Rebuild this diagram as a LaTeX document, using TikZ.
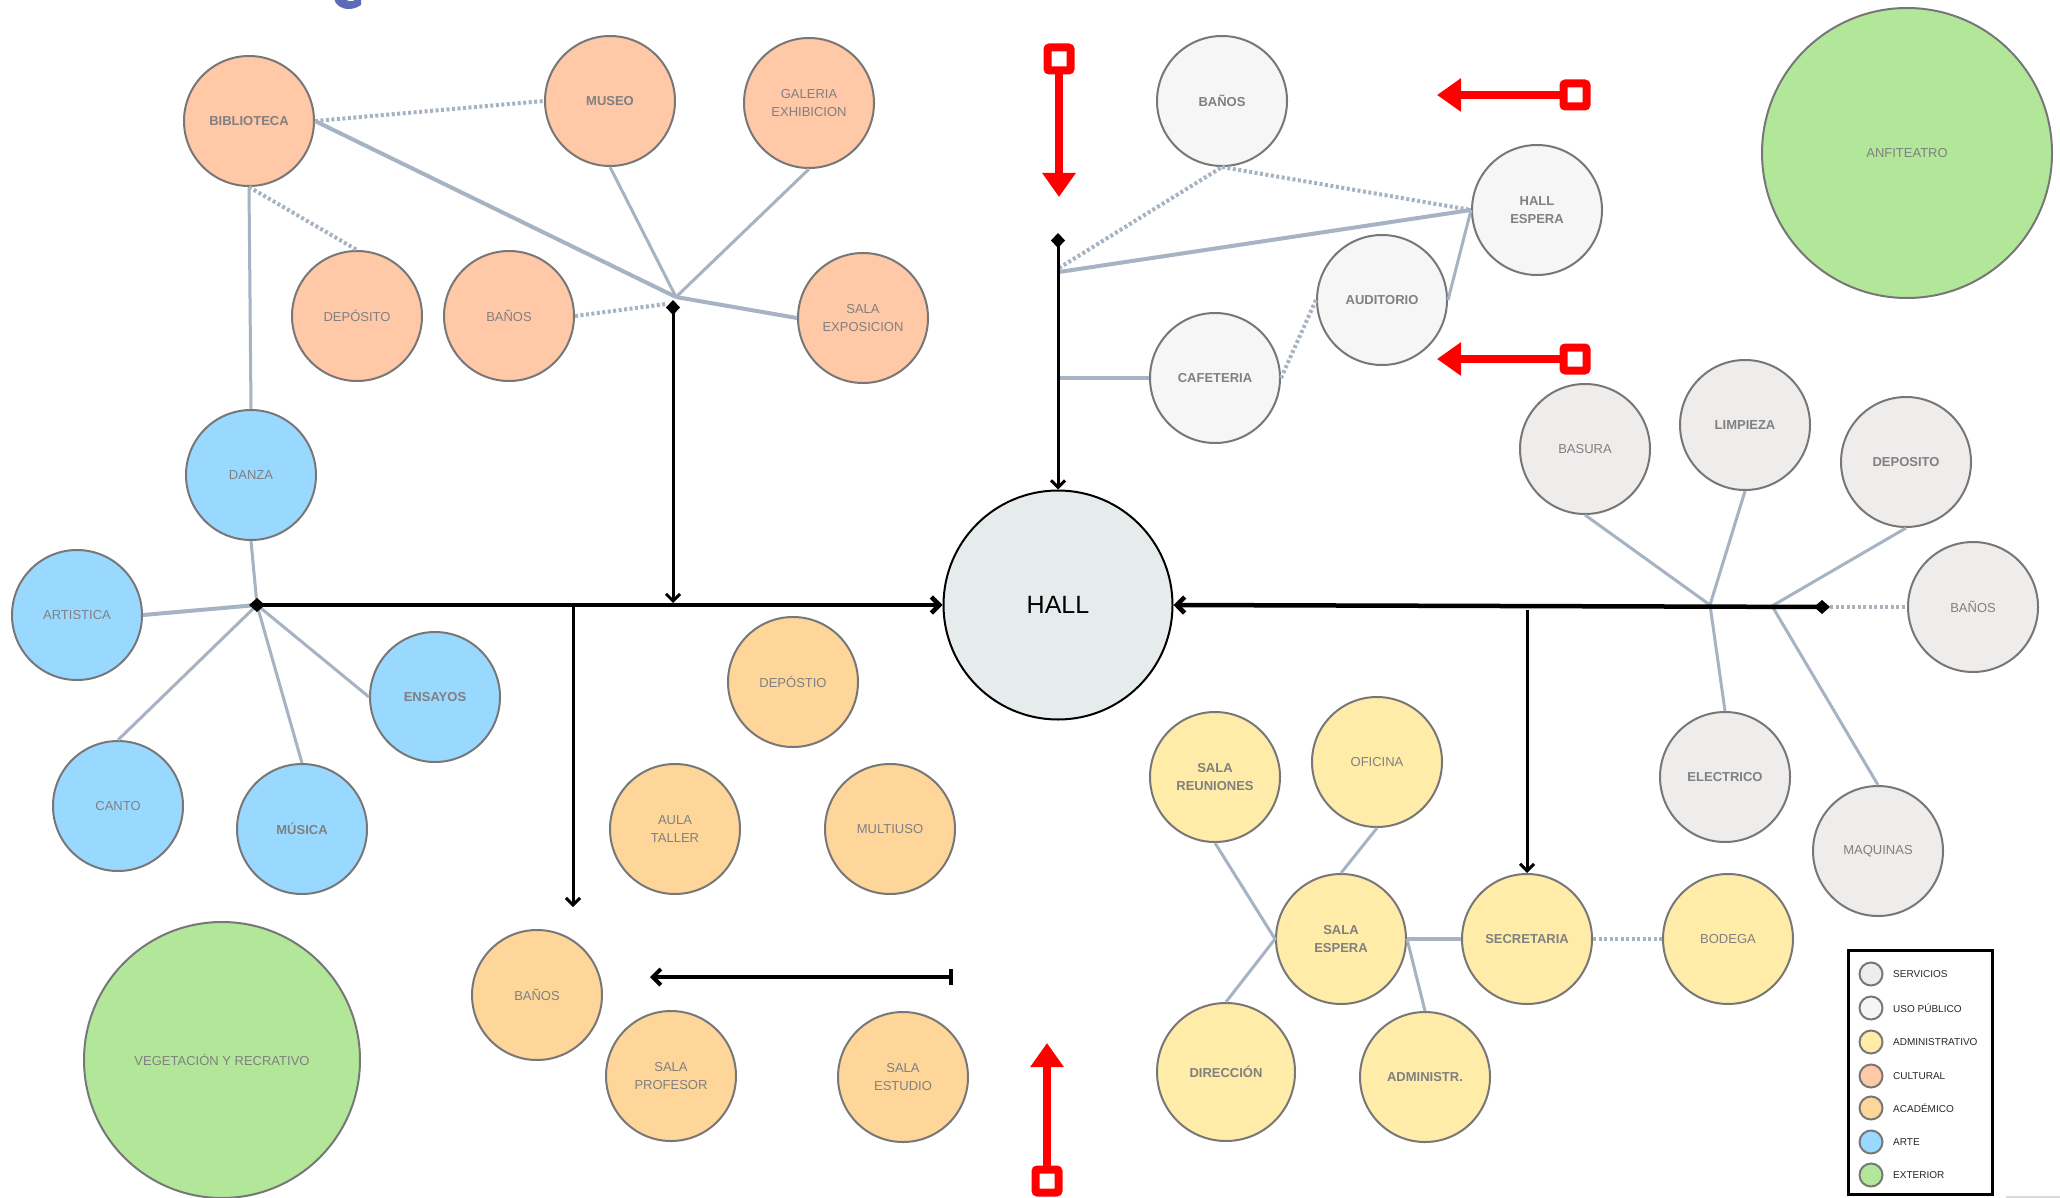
\documentclass[tikz,border=0pt]{standalone}
\usepackage{fontspec}
\setmainfont{Liberation Sans}
\usetikzlibrary{arrows.meta}
\definecolor{cserv}{HTML}{EFECEC}
\definecolor{cuso}{HTML}{F6F6F6}
\definecolor{cadm}{HTML}{FFECA9}
\definecolor{ccul}{HTML}{FFC8A6}
\definecolor{caca}{HTML}{FED699}
\definecolor{carte}{HTML}{9AD9FF}
\definecolor{cext}{HTML}{B2E79A}
\definecolor{chall}{HTML}{E5ECEB}
\definecolor{cline}{HTML}{A5B3C2}
\definecolor{cbord}{HTML}{777777}
\definecolor{ctxt}{HTML}{808080}
\definecolor{cblue}{HTML}{5C6BB5}
\tikzset{
  room/.style={circle, draw=cbord, line width=2pt, minimum size=130pt, inner sep=0pt,
    font=\fontsize{13}{18}\selectfont, text=ctxt, align=center},
  bf/.style={font=\fontsize{13}{18}\selectfont\bfseries},
  cul/.style={room, fill=ccul},
  aca/.style={room, fill=caca},
  adm/.style={room, fill=cadm},
  arte/.style={room, fill=carte},
  ext/.style={room, fill=cext},
  serv/.style={room, fill=cserv},
  uso/.style={room, fill=cuso},
  conn/.style={cline, line width=4pt},
  thinconn/.style={cline, line width=3pt},
  dots/.style={cline, line width=4pt, dash pattern=on 3pt off 2.5pt},
  blk/.style={black},
  dtip/.style={},
  redsq/.style={rectangle, draw=red, fill=white, line width=8pt, minimum size=23pt, inner sep=0pt, rounded corners=2pt},
  redarr/.style={red, line width=8pt, -{Triangle[length=24pt,width=32pt]}},
  legc/.style={circle, draw=cbord, line width=2pt, minimum size=23pt, inner sep=0pt},
  legt/.style={anchor=west, font=\fontsize{10}{12}\selectfont, text=black!85, inner sep=0pt}
}
\begin{document}
\begin{tikzpicture}[x=1pt,y=-1pt]
\useasboundingbox (0,0) rectangle (2060,1198);
\fill[white] (0,0) rectangle (2060,1198);
% partial glyph at top
\begin{scope}
\clip (0,0) rectangle (2060,1198);
\fill[cblue] (334,-2) .. controls (335,5) and (341,9) .. (349,9) .. controls (354,9) and (358,7) .. (361,5) -- (361,0) -- (355,0) .. controls (352,2) and (347,2) .. (345,-2) -- cycle;
\end{scope}

% ---------- nodes ----------
% cultural
\node[cul, bf] (bib) at (249,121) {BIBLIOTECA};
\node[cul, bf] (mus) at (610,101) {MUSEO};
\node[cul] (gal) at (809,103) {GALERIA\\EXHIBICION};
\node[cul] (dep) at (357,316) {DEPÓSITO};
\node[cul] (bcu) at (509,316) {BAÑOS};
\node[cul] (sexp) at (863,318) {SALA\\EXPOSICION};
% arte
\node[arte] (dan) at (251,475) {DANZA};
\node[arte] (art) at (77,615) {ARTISTICA};
\node[arte, bf] (ens) at (435,697) {ENSAYOS};
\node[arte] (can) at (118,806) {CANTO};
\node[arte, bf] (mu) at (302,829) {MÚSICA};
% exterior
\node[ext, minimum size=276pt] (veg) at (222,1060) {VEGETACIÓN Y RECRATIVO};
\node[ext, minimum size=290pt] (anf) at (1907,153) {ANFITEATRO};
% academico
\node[aca] (dpt) at (793,682) {DEPÓSTIO};
\node[aca] (aul) at (675,829) {AULA\\TALLER};
\node[aca] (mul) at (890,829) {MULTIUSO};
\node[aca] (bac) at (537,995) {BAÑOS};
\node[aca] (spr) at (671,1076) {SALA\\PROFESOR};
\node[aca] (ses) at (903,1077) {SALA\\ESTUDIO};
% hall
\node[circle, draw=black, line width=2pt, fill=chall, minimum size=229pt, inner sep=0pt,
  font=\fontsize{25}{30}\selectfont, text=black] (hall) at (1058,605) {HALL};
% uso publico
\node[uso, bf] (bus) at (1222,101) {BAÑOS};
\node[uso, bf] (hes) at (1537,210) {HALL\\ESPERA};
\node[uso, bf] (aud) at (1382,300) {AUDITORIO};
\node[uso, bf] (caf) at (1215,378) {CAFETERIA};
% servicios
\node[serv] (bas) at (1585,449) {BASURA};
\node[serv, bf] (lim) at (1745,425) {LIMPIEZA};
\node[serv, bf] (dpo) at (1906,462) {DEPOSITO};
\node[serv] (bse) at (1973,607) {BAÑOS};
\node[serv, bf] (ele) at (1725,777) {ELECTRICO};
\node[serv] (maq) at (1878,851) {MAQUINAS};
% administrativo
\node[adm, bf] (sre) at (1215,777) {SALA\\REUNIONES};
\node[adm] (ofi) at (1377,762) {OFICINA};
\node[adm, bf] (sesp) at (1341,939) {SALA\\ESPERA};
\node[adm, bf] (sec) at (1527,939) {SECRETARIA};
\node[adm] (bod) at (1728,939) {BODEGA};
\node[adm, bf, minimum size=138pt] (dir) at (1226,1072) {DIRECCIÓN};
\node[adm, bf] (admn) at (1425,1077) {ADMINISTR.};

% ---------- gray connectors ----------
\coordinate (ch) at (676,297);
\coordinate (chd) at (666,304);
\draw[conn] (bib.east) -- (ch);
\draw[thinconn] (mus.south) -- (ch);
\draw[thinconn] (gal.south) -- (ch);
\draw[conn] (sexp.west) -- (ch);
\draw[dots] (bcu.east) -- (chd);
\draw[dots] (bib.east) -- (mus.west);
\draw[dots] (bib.south) -- (dep.north);
\draw[thinconn] (bib.south) -- (dan.north);

\coordinate (ah) at (257,605);
\draw[thinconn] (dan.south) -- (ah);
\draw[conn] (art.east) -- (ah);
\draw[thinconn] (can.north) -- (ah);
\draw[thinconn] (mu.north) -- (ah);
\draw[thinconn] (ens.west) -- (ah);

\coordinate (uj) at (1059,272);
\coordinate (ujd) at (1059,268);
\coordinate (cj) at (1059,378);
\draw[conn] (uj) -- (hes.west);
\draw[dots] (ujd) -- (bus.south);
\draw[dots] (bus.south) -- (hes.west);
\draw[thinconn] (hes.west) -- (aud.east);
\draw[dots] (aud.west) -- (caf.east);
\draw[conn] (cj) -- (caf.west);

\coordinate (sj1) at (1710,605);
\coordinate (sj2) at (1772,606);
\coordinate (sdi) at (1830,607);
\draw[thinconn] (bas.south) -- (sj1);
\draw[thinconn] (lim.south) -- (sj1) -- (ele.north);
\draw[thinconn] (dpo.south) -- (sj2) -- (maq.north);
\draw[dots] (sdi) -- (bse.west);

\draw[thinconn] (sre.south) -- (sesp.west) -- (dir.north);
\draw[thinconn] (ofi.south) -- (sesp.north);
\draw[conn] (sesp.east) -- (sec.west);
\draw[thinconn] (sesp.east) -- (admn.north);
\draw[dots] (sec.east) -- (bod.west);

% ---------- black connectors ----------
\coordinate (m1) at (249,605);
\draw[blk, line width=4.5pt, {Diamond[length=16pt,width=14pt]}-{Straight Barb[length=8pt,width=16pt]}] (m1) -- (hall.west);
\coordinate (c1) at (673,300);
\coordinate (c2) at (673,603);
\draw[blk, line width=3pt, {Diamond[length=15pt,width=14pt]}-{Straight Barb[length=7pt,width=14pt]}] (c1) -- (c2);
\coordinate (b1) at (573,607);
\coordinate (b2) at (573,907);
\draw[blk, line width=3pt, -{Straight Barb[length=7pt,width=14pt]}] (b1) -- (b2);
\coordinate (h1) at (953,977);
\coordinate (h2) at (650,977);
\draw[blk, line width=4pt, {Bar[width=16pt]}-{Straight Barb[length=8pt,width=16pt]}] (h1) -- (h2);
\coordinate (t1) at (1058,233);
\draw[blk, line width=3pt, {Diamond[length=15pt,width=14pt]}-{Straight Barb[length=7pt,width=14pt]}] (t1) -- (hall.north);
\draw[blk, line width=4.5pt, {Diamond[length=16pt,width=14pt]}-{Straight Barb[length=8pt,width=16pt]}] (sdi) -- (hall.east);
\coordinate (s1) at (1527,610);
\draw[blk, line width=3pt, -{Straight Barb[length=7pt,width=14pt]}] (s1) -- (sec.north);

% ---------- red arrows ----------
\node[redsq] (rq1) at (1059,59) {};
\coordinate (rt1) at (1059,197);
\draw[redarr] (rq1.south) -- (rt1);
\node[redsq] (rq2) at (1575,95) {};
\coordinate (rt2) at (1437,95);
\draw[redarr] (rq2.west) -- (rt2);
\node[redsq] (rq3) at (1575,359) {};
\coordinate (rt3) at (1437,359);
\draw[redarr] (rq3.west) -- (rt3);
\node[redsq] (rq4) at (1047,1181) {};
\coordinate (rt4) at (1047,1043);
\draw[redarr] (rq4.north) -- (rt4);

% ---------- legend ----------
\node[draw=black, line width=3pt, rectangle, minimum width=144pt, minimum height=244pt, inner sep=0pt] (leg) at (1920,1072) {};
\node[legc, fill=cserv] (l1) at (1871,974) {};
\node[legt] (l1t) at (1893,974) {SERVICIOS};
\node[legc, fill=cuso] (l2) at (1871,1008) {};
\node[legt] (l2t) at (1893,1008) {USO PÚBLICO};
\node[legc, fill=cadm] (l3) at (1871,1042) {};
\node[legt] (l3t) at (1893,1042) {ADMINISTRATIVO};
\node[legc, fill=ccul] (l4) at (1871,1076) {};
\node[legt] (l4t) at (1893,1076) {CULTURAL};
\node[legc, fill=caca] (l5) at (1871,1108) {};
\node[legt] (l5t) at (1893,1108) {ACADÉMICO};
\node[legc, fill=carte] (l6) at (1871,1142) {};
\node[legt] (l6t) at (1893,1142) {ARTE};
\node[legc, fill=cext] (l7) at (1871,1175) {};
\node[legt] (l7t) at (1893,1175) {EXTERIOR};
\draw[black!15, line width=1.5pt] (2006,1197) -- (2060,1197);
\end{tikzpicture}
\end{document}
